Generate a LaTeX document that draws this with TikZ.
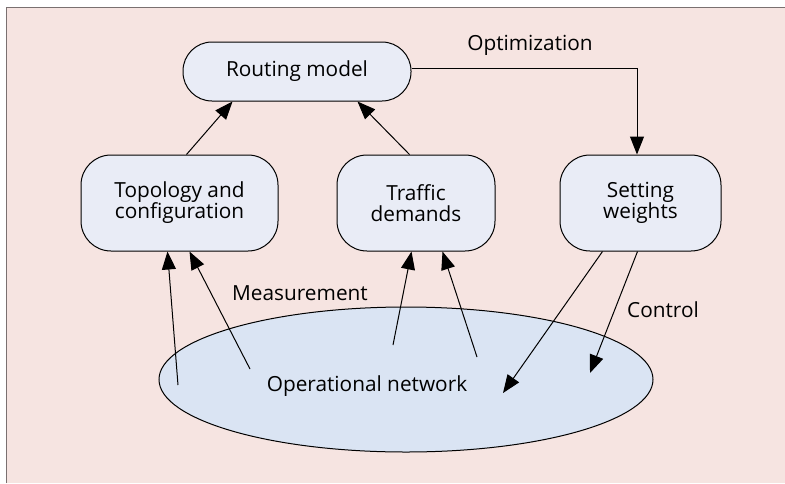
\documentclass[tikz,border=0pt]{standalone}
\usepackage{fontspec}
\setmainfont{Open Sans}
\usetikzlibrary{shapes.geometric,arrows.meta,calc}
\definecolor{bgpink}{HTML}{F6E4E1}
\definecolor{boxfill}{HTML}{E9ECF6}
\definecolor{ellfill}{HTML}{DAE4F3}
\definecolor{framegray}{HTML}{7A7070}
\tikzset{
  roundbox/.style={draw=black, line width=1pt, fill=boxfill, rectangle, align=center,
    font=\fontsize{20.8}{21}\selectfont, inner sep=0pt},
  arr/.style={draw=black, line width=1pt, -{Triangle[length=18pt,width=14pt]}},
  lbl/.style={font=\fontsize{20.8}{21}\selectfont, inner sep=0pt}
}
\begin{document}
\begin{tikzpicture}[x=1pt,y=-1pt]
\useasboundingbox (0,0) rectangle (785,483);
\fill[bgpink] (7,8) rectangle (785,483);
\draw[framegray, line width=1.5pt] (6.5,483) -- (6.5,7.5) -- (785,7.5);

\node[roundbox, minimum width=228pt, minimum height=59pt, rounded corners=29pt] (rm) at (297,71.5) {Routing model};
\node[roundbox, minimum width=197pt, minimum height=96pt, rounded corners=30pt] (topo) at (179.5,203) {Topology and\\configuration};
\node[roundbox, minimum width=158pt, minimum height=96pt, rounded corners=30pt] (traf) at (416,203) {Traffic\\demands};
\node[roundbox, minimum width=161pt, minimum height=96pt, rounded corners=30pt] (set) at (640.5,203) {Setting\\weights};
\node[draw=black, line width=1pt, fill=ellfill, ellipse, minimum width=494pt, minimum height=145pt, inner sep=0pt] (net) at (406,379.5) {};
\node[lbl] (nettext) at (367,386) {Operational network};

% Routing model inputs
\draw[arr] ($(topo.north west)+(106,0)$) -- ($(rm.south west)+(50,0)$);
\draw[arr] ($(traf.north west)+(73,0)$) -- ($(rm.south west)+(175,0)$);

% Optimization
\coordinate (optc) at (637,68);
\draw[arr] (rm.east |- optc) -- (optc) -- (set.north -| optc);
\node[lbl] (opt) at (530,45) {Optimization};

% Measurement
\coordinate (m1) at (178,385);
\coordinate (m2) at (250,369);
\coordinate (m3) at (393,345);
\coordinate (m4) at (477,357);
\draw[arr] (m1) -- ($(topo.south west)+(87,0)$);
\draw[arr] (m2) -- ($(topo.south west)+(109,0)$);
\draw[arr] (m3) -- ($(traf.south west)+(75,0)$);
\draw[arr] (m4) -- ($(traf.south west)+(106,0)$);
\node[lbl] (meas) at (300,293) {Measurement};

% Control
\coordinate (c1) at (503,393);
\coordinate (c2) at (590,373);
\draw[arr] ($(set.south west)+(43,0)$) -- (c1);
\draw[arr] ($(set.south west)+(78,0)$) -- (c2);
\node[lbl] (ctrl) at (663,310) {Control};
\end{tikzpicture}
\end{document}
